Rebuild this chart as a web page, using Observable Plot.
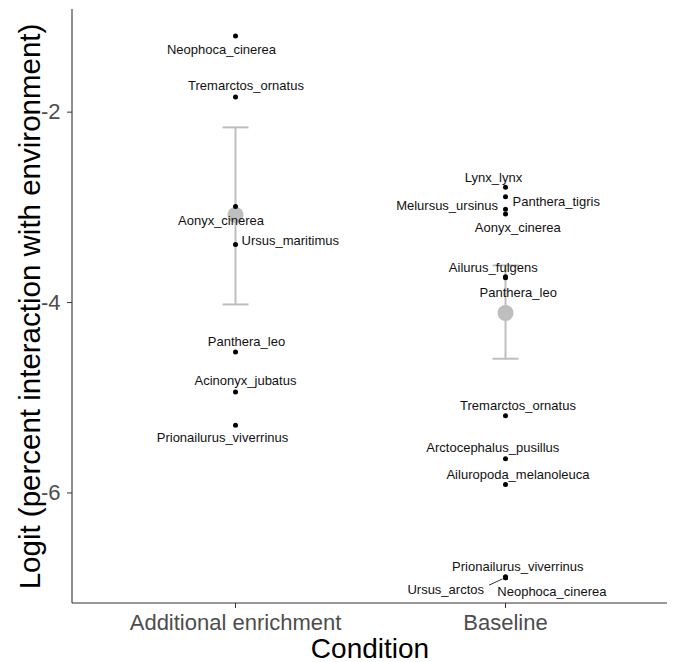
<!DOCTYPE html>
<html>
<head>
<meta charset="utf-8">
<script src="https://cdn.jsdelivr.net/npm/d3@7"></script>
<script src="https://cdn.jsdelivr.net/npm/@observablehq/plot@0.6"></script>
<style>
  html, body { margin: 0; padding: 0; background: #ffffff; }
  #chart { width: 678px; height: 662px; }
</style>
</head>
<body>
<div id="chart"></div>
<script>
// ---------------- data ----------------
const conditions = ["Additional enrichment", "Baseline"];

const speciesNames = [
  "Neophoca_cinerea", "Tremarctos_ornatus", "Aonyx_cinerea", "Ursus_maritimus",
  "Panthera_leo", "Acinonyx_jubatus", "Prionailurus_viverrinus",
  "Lynx_lynx", "Panthera_tigris", "Melursus_ursinus", "Aonyx_cinerea",
  "Ailurus_fulgens", "Panthera_leo", "Tremarctos_ornatus", "Arctocephalus_pusillus",
  "Ailuropoda_melanoleuca", "Prionailurus_viverrinus", "Ursus_arctos", "Neophoca_cinerea"
];
const speciesCondition = [
  "Additional enrichment", "Additional enrichment", "Additional enrichment", "Additional enrichment",
  "Additional enrichment", "Additional enrichment", "Additional enrichment",
  "Baseline", "Baseline", "Baseline", "Baseline",
  "Baseline", "Baseline", "Baseline", "Baseline",
  "Baseline", "Baseline", "Baseline", "Baseline"
];
const logitValues = [
  -1.20, -1.84, -2.99, -3.39,
  -4.52, -4.94, -5.29,
  -2.79, -2.89, -3.02, -3.07,
  -3.73, -3.74, -5.19, -5.64,
  -5.91, -6.88, -6.89, -6.89
];

const meanValues = [-3.08, -4.11];
const lowerValues = [-4.02, -4.59];
const upperValues = [-2.16, -3.61];

const yTicks = [-6, -4, -2];
const yDomain = [-7.161, -0.922];

const xTitle = "Condition";
const yTitle = "Logit (percent interaction with environment)";

// ---------------- label layout (repel offsets, px) ----------------
const labelLayout = [
  {dx: -14, dy: 14, anchor: "middle"},
  {dx: 10.5, dy: -11, anchor: "middle"},
  {dx: -14.5, dy: 14, anchor: "middle"},
  {dx: 6, dy: -4, anchor: "start"},
  {dx: 11, dy: -10, anchor: "middle"},
  {dx: 10, dy: -11, anchor: "middle"},
  {dx: -13, dy: 12.7, anchor: "middle"},
  {dx: -12, dy: -10, anchor: "middle"},
  {dx: 7, dy: 4.7, anchor: "start"},
  {dx: -7.5, dy: -3.3, anchor: "end"},
  {dx: 12.3, dy: 14, anchor: "middle"},
  {dx: -12.2, dy: -9, anchor: "middle"},
  {dx: 12.7, dy: 15, anchor: "middle"},
  {dx: 12.5, dy: -10, anchor: "middle"},
  {dx: -12.7, dy: -11.3, anchor: "middle"},
  {dx: 12.5, dy: -9.7, anchor: "middle"},
  {dx: 12.3, dy: -9.6, anchor: "middle"},
  {dx: -21.5, dy: 11.7, anchor: "end", leader: true},
  {dx: -8.2, dy: 14.4, anchor: "start"}
];

// ---------------- build tables ----------------
const points = speciesNames.map((name, i) => ({
  name, condition: speciesCondition[i], value: logitValues[i]
}));
const summary = conditions.map((c, i) => ({
  condition: c, mean: meanValues[i], lower: lowerValues[i], upper: upperValues[i]
}));

const grey = "#bebebe";
const capSymbol = {draw(ctx) { ctx.moveTo(-13, 0); ctx.lineTo(13, 0); }};
const leaderSymbol = {draw(ctx) { ctx.moveTo(-3, 1.2); ctx.lineTo(-16.5, 7.5); }};

function axisLines(...args) {
  const dims = args.find(a => a && typeof a === "object" && !Array.isArray(a) && "marginLeft" in a && "height" in a);
  const {width, height, marginLeft, marginRight, marginTop, marginBottom} = dims;
  const g = d3.create("svg:g").attr("stroke", "#333333").attr("stroke-width", 1.1).attr("fill", "none");
  g.append("line").attr("x1", marginLeft).attr("x2", marginLeft)
    .attr("y1", marginTop).attr("y2", height - marginBottom);
  g.append("line").attr("x1", marginLeft).attr("x2", width - marginRight)
    .attr("y1", height - marginBottom).attr("y2", height - marginBottom);
  return g.node();
}

const labelMarks = labelLayout.map((L, i) =>
  Plot.text([points[i]], {
    x: "condition", y: "value", text: "name",
    dx: L.dx, dy: L.dy, textAnchor: L.anchor,
    fontSize: 13, fill: "#111111"
  })
);
const leaderMarks = labelLayout
  .map((L, i) => L.leader ? points[i] : null)
  .filter(d => d)
  .map(d => Plot.dot([d], {
    x: "condition", y: "value", symbol: leaderSymbol, r: 3,
    stroke: "#333333", strokeWidth: 1, fill: "none"
  }));

const chart = Plot.plot({
  width: 678,
  height: 662,
  marginLeft: 72,
  marginRight: 11,
  marginTop: 9,
  marginBottom: 59,
  style: {fontFamily: "'Liberation Sans', Arial, sans-serif", background: "#ffffff", overflow: "visible"},
  x: {type: "point", domain: conditions, padding: 0.6, label: null},
  y: {domain: yDomain, label: null},
  marks: [
    // error bars
    Plot.ruleX(summary, {x: "condition", y1: "lower", y2: "upper", stroke: grey, strokeWidth: 2}),
    Plot.dot(summary, {x: "condition", y: "upper", symbol: capSymbol, r: 3, stroke: grey, strokeWidth: 2, fill: "none"}),
    Plot.dot(summary, {x: "condition", y: "lower", symbol: capSymbol, r: 3, stroke: grey, strokeWidth: 2, fill: "none"}),
    Plot.dot(summary, {x: "condition", y: "mean", r: 8, fill: grey, stroke: "none"}),
    // species points
    Plot.dot(points, {x: "condition", y: "value", r: 2.5, fill: "#000000", stroke: "none"}),
    ...leaderMarks,
    ...labelMarks,
    // axes
    axisLines,
    Plot.text([yTitle], {frameAnchor: "left", text: d => d, rotate: -90, dx: -42, textAnchor: "middle", lineAnchor: "middle", fontSize: 29.5, fill: "#000000"}),
    Plot.text([xTitle], {frameAnchor: "bottom", text: d => d, textAnchor: "middle", lineAnchor: "bottom", dy: 54, fontSize: 28, fill: "#000000"}),
    Plot.axisY({ticks: yTicks, tickFormat: d => String(d), tickSize: 5, tickPadding: 7, fontSize: 22, stroke: "#333333", fill: "#4d4d4d", label: null}),
    Plot.axisX({tickSize: 5, tickPadding: 6, fontSize: 22, stroke: "#333333", fill: "#4d4d4d", label: null})
  ]
});

document.getElementById("chart").appendChild(chart);
</script>
</body>
</html>
